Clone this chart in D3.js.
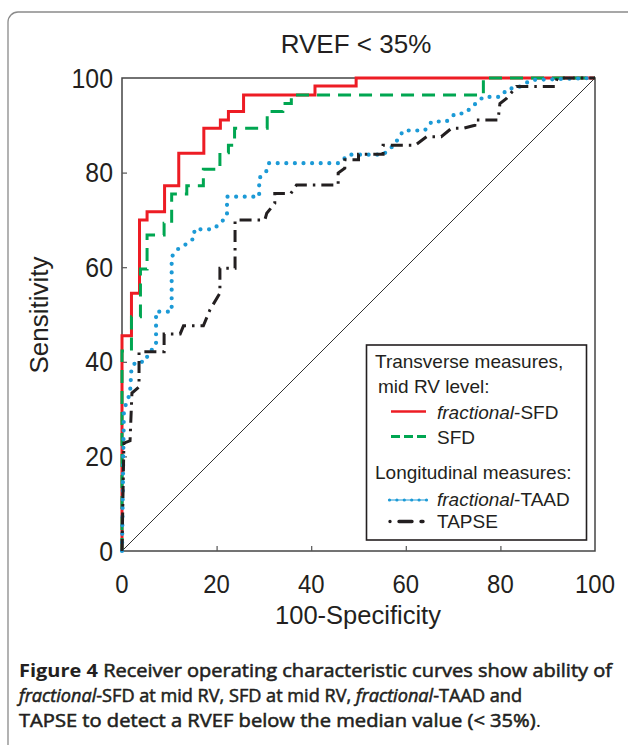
<!DOCTYPE html>
<html>
<head>
<meta charset="utf-8">
<script src="https://cdn.jsdelivr.net/npm/d3@7/dist/d3.min.js"></script>
<style>
  html, body { margin: 0; padding: 0; background: #fff; }
  svg { display: block; }
</style>
</head>
<body>
<script>
// ---------- data (100-specificity, sensitivity) ----------
const fracSfdX = [0,0,2,2,3.7,3.7,5.3,5.3,9,9,12,12,17.3,17.3,20.8,20.8,22.5,22.5,25.7,25.7,40.8,40.8,49.5,49.5,100];
const fracSfdY = [0,45.5,45.5,54.5,54.5,70,70,71.7,71.7,77.2,77.2,84.1,84.1,89.4,89.4,91.1,91.1,92.9,92.9,96.4,96.4,98.3,98.3,100,100];

const sfdX = [0,0,2,2,3.9,3.9,5.3,5.3,8.9,8.9,10.5,10.5,13.7,13.7,17.2,17.2,20.7,20.7,22.5,22.5,23.8,23.8,30.7,30.7,34,34,35.8,35.8,76.4,76.4,100];
const sfdY = [0,42.3,42.3,49.5,49.5,59.6,59.6,66.8,66.8,69.3,69.3,75.5,75.5,77.2,77.2,80.7,80.7,84.2,84.2,85.8,85.8,89.4,89.4,92.9,92.9,94.6,94.6,96.4,96.4,100,100];

const fracTaadX = [0,0.4,1.7,2,2.9,4.9,5.6,7.2,7.2,10.5,10.5,12,13.8,15.3,15.3,19.3,21.1,22.2,22.2,29,29,30.7,31.1,46.1,47.8,55.2,57.5,59.5,64,65.5,68.6,70.5,72.5,74.2,76.4,80,81.6,83.4,86.6,100];
const fracTaadY = [0,29.8,33.4,38.6,40,40,41.8,43.5,50.6,50.6,62.2,64,65,66.2,68,68,69.6,71,74.9,74.9,78.8,80.5,82,82,83.8,83.8,85.8,88.9,88.9,90.8,90.8,92.5,92.5,94.1,96,96,97.8,97.8,99.6,100];

const tapseX = [0,0.4,1.7,2.1,3.6,3.6,8.9,8.9,12.3,13,17.2,18.6,20.7,20.7,23.9,23.9,30.2,30.6,32.3,32.3,35.7,36.9,45.7,45.7,47.1,47.1,50,50,55.2,55.2,62,64.4,67.5,69.7,72.3,74.6,74.6,79.5,79.9,81.3,83.4,91.5,92,100];
const tapseY = [0,22.8,23.3,33.4,34.7,42.1,42.1,45.9,45.9,47.6,47.6,51,54.5,59.8,59.8,70,70,71.4,73.5,75.6,75.6,77.4,77.4,79.9,80.9,82.7,82.7,83.9,83.9,85.8,85.8,87.6,87.6,89.4,89.4,90,91.1,91.1,94.6,95.7,98.2,98.2,100,100];

const refX = [0,100];
const refY = [0,100];

const tickValues = [0,20,40,60,80,100];
const chartTitle = "RVEF < 35%";
const xTitle = "100-Specificity";
const yTitle = "Sensitivity";

// ---------- setup ----------
const W = 628, H = 745;
const svg = d3.select("body").append("svg").attr("width", W).attr("height", H);
const FONT = "'Liberation Sans', Arial, Helvetica, sans-serif";

// outer figure border
svg.append("rect").attr("x", 8).attr("y", 12).attr("width", 720).attr("height", 800)
  .attr("rx", 10).attr("fill", "none").attr("stroke", "#8a8a8a").attr("stroke-width", 1.3);

const x = d3.scaleLinear().domain([0,100]).range([122,595]);
const y = d3.scaleLinear().domain([0,100]).range([551,78]);

const toPts = (xs, ys) => xs.map((v,i) => [v, ys[i]]);
const line = d3.line().x(d => x(d[0])).y(d => y(d[1]));

// frame
svg.append("rect").attr("x", x(0)).attr("y", y(100)).attr("width", x(100)-x(0)).attr("height", y(0)-y(100))
  .attr("fill", "none").attr("stroke", "#444").attr("stroke-width", 1.5);

// inward ticks using axes
const yAxis = d3.axisRight(y).tickValues([20,40,60,80]).tickSize(5).tickFormat("");
const gy = svg.append("g").attr("transform", `translate(${x(0)},0)`).call(yAxis);
gy.select(".domain").remove();
gy.selectAll("line").attr("stroke", "#555").attr("stroke-width", 1.2);

const xAxis = d3.axisTop(x).tickValues([20,40,60,80]).tickSize(5).tickFormat("");
const gx = svg.append("g").attr("transform", `translate(0,${y(0)})`).call(xAxis);
gx.select(".domain").remove();
gx.selectAll("line").attr("stroke", "#555").attr("stroke-width", 1.2);

// tick labels (slightly condensed like the original)
svg.append("g").selectAll("text").data(tickValues).join("text")
  .attr("transform", d => `translate(113,${y(d) + 9.5}) scale(0.92,1)`)
  .attr("text-anchor", "end").attr("font-family", FONT).attr("font-size", 27).attr("fill", "#231f20")
  .text(d => d);
svg.append("g").selectAll("text").data(tickValues).join("text")
  .attr("transform", d => `translate(${x(d)},593) scale(0.92,1)`)
  .attr("text-anchor", "middle").attr("font-family", FONT).attr("font-size", 26).attr("fill", "#231f20")
  .text(d => d);

// titles
svg.append("text").attr("x", 356).attr("y", 53).attr("text-anchor", "middle")
  .attr("font-family", FONT).attr("font-size", 26).attr("fill", "#231f20").text(chartTitle);
svg.append("text").attr("x", 358).attr("y", 624).attr("text-anchor", "middle")
  .attr("font-family", FONT).attr("font-size", 25.5).attr("fill", "#231f20").text(xTitle);
svg.append("text").attr("transform", "translate(48,315) rotate(-90)").attr("text-anchor", "middle")
  .attr("font-family", FONT).attr("font-size", 26).attr("fill", "#231f20").text(yTitle);

// reference diagonal
svg.append("path").attr("d", line(toPts(refX, refY))).attr("fill", "none")
  .attr("stroke", "#333").attr("stroke-width", 1);

// curves
const RED = "#ed1c24", GREEN = "#00a651", BLUE = "#1c9ad6", BLACK = "#231f20";
const series = [
  { xs: fracSfdX, ys: fracSfdY, color: RED, width: 3, dash: null, cap: "butt" },
  { xs: sfdX, ys: sfdY, color: GREEN, width: 3, dash: "13,8", cap: "butt" },
  { xs: fracTaadX, ys: fracTaadY, color: BLUE, width: 4.2, dash: "0,8.6", cap: "round" },
  { xs: tapseX, ys: tapseY, color: BLACK, width: 3, dash: "12,6,2.5,6", cap: "butt" }
];
series.forEach(s => {
  svg.append("path").attr("d", line(toPts(s.xs, s.ys))).attr("fill", "none")
    .attr("stroke", s.color).attr("stroke-width", s.width)
    .attr("stroke-dasharray", s.dash).attr("stroke-linecap", s.cap)
    .attr("stroke-linejoin", "miter");
});

// legend
const lg = svg.append("g");
lg.append("rect").attr("x", 366.5).attr("y", 345).attr("width", 220).attr("height", 195)
  .attr("fill", "#fff").attr("stroke", "#231f20").attr("stroke-width", 1.6);
const LF = 19;
const ltext = (tx, ty, parts) => {
  const t = lg.append("text").attr("x", tx).attr("y", ty).attr("font-family", FONT)
    .attr("font-size", LF).attr("fill", "#231f20");
  parts.forEach(p => t.append("tspan").attr("font-style", p[1] ? "italic" : "normal").text(p[0]));
};
ltext(375, 368, [["Transverse measures,", false]]);
ltext(378, 392.5, [["mid RV level:", false]]);
ltext(437, 418.5, [["fractional", true], ["-SFD", false]]);
ltext(437, 443.5, [["SFD", false]]);
ltext(375, 478.5, [["Longitudinal measures:", false]]);
ltext(437, 506, [["fractional", true], ["-TAAD", false]]);
ltext(437, 527.5, [["TAPSE", false]]);

lg.append("line").attr("x1", 391).attr("x2", 426).attr("y1", 411.5).attr("y2", 411.5)
  .attr("stroke", RED).attr("stroke-width", 2.6);
lg.append("line").attr("x1", 391).attr("x2", 426).attr("y1", 436.5).attr("y2", 436.5)
  .attr("stroke", GREEN).attr("stroke-width", 3).attr("stroke-dasharray", "9,4");
lg.append("line").attr("x1", 389).attr("x2", 427).attr("y1", 500).attr("y2", 500)
  .attr("stroke", BLUE).attr("stroke-width", 1.1);
lg.append("line").attr("x1", 389.5).attr("x2", 427).attr("y1", 500).attr("y2", 500)
  .attr("stroke", BLUE).attr("stroke-width", 3.2).attr("stroke-dasharray", "0,7.4").attr("stroke-linecap", "round");
lg.append("line").attr("x1", 390).attr("x2", 423).attr("y1", 521.5).attr("y2", 521.5)
  .attr("stroke", BLACK).attr("stroke-width", 3.4).attr("stroke-dasharray", "0,9,13,9,0")
  .attr("stroke-linecap", "round");

// caption (semibold look: regular glyphs with a thin same-colour stroke)
const CF = "'Open Sans', 'Noto Sans', sans-serif";
const cap = (ty, len, parts) => {
  const t = svg.append("text").attr("x", 19).attr("y", ty).attr("font-family", CF)
    .attr("font-size", 18.5).attr("fill", "#231f20").attr("textLength", len).attr("lengthAdjust", "spacingAndGlyphs");
  parts.forEach(p => {
    const ts = t.append("tspan").attr("font-weight", p[1]).attr("font-style", p[2] ? "italic" : "normal").text(p[0]);
    if (p[3]) ts.attr("stroke", "#231f20").attr("stroke-width", p[3]);
  });
};
cap(677, 593, [["Figure 4", 700, false, 0], [" Receiver operating characteristic curves show ability of", 400, false, 0.55]]);
cap(702, 503, [["fractional", 400, true, 0.55], ["-SFD at mid RV, SFD at mid RV, ", 400, false, 0.55], ["fractional", 400, true, 0.55], ["-TAAD and", 400, false, 0.55]]);
cap(727, 522, [["TAPSE to detect a RVEF below the median value (< 35%)", 400, false, 0.55], [".", 400, false, 0]]);
</script>
</body>
</html>
